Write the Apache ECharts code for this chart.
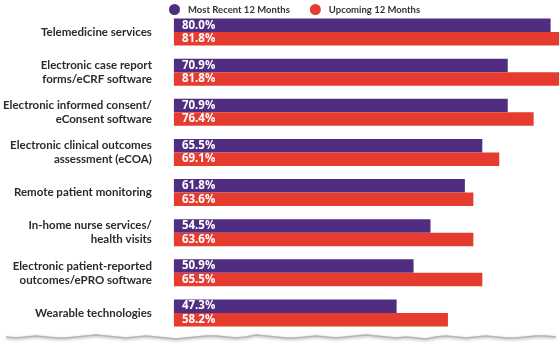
<!DOCTYPE html>
<html><head><meta charset="utf-8">
<script src="https://cdn.jsdelivr.net/npm/echarts@6/dist/echarts.min.js"></script>
<style>html,body{margin:0;padding:0;background:#fff}#c{width:560px;height:346px}</style>
</head><body><div id="c"></div>
<script>
const categories = [
  "Telemedicine services",
  "Electronic case report\nforms/eCRF software",
  "Electronic informed consent/\neConsent software",
  "Electronic clinical outcomes\nassessment (eCOA)",
  "Remote patient monitoring",
  "In-home nurse services/\nhealth visits",
  "Electronic patient-reported\noutcomes/ePRO software",
  "Wearable technologies"
];
const seriesNames = ["Most Recent 12 Months", "Upcoming 12 Months"];
const recent = [80.0, 70.9, 70.9, 65.5, 61.8, 54.5, 50.9, 47.3];
const upcoming = [81.8, 81.8, 76.4, 69.1, 63.6, 63.6, 65.5, 58.2];

// decorative torn-paper edge along the bottom
const tornEdge = [];
{
  const ys = [0,1,0,-1,0,1,1,0,-1,-2,-1,0,1,0,-1,0,1,2,1,0,-1,-1,0,1,0,-2,-1,0,1,1,0,-1,0,1,0,-1,-2,-1,0,1,0,1,2,0,-1,0,1,0,-1,0,1,1,0,-1,-1,0];
  for (let i = 0; i < ys.length; i++) tornEdge.push([6 + i * 10, 337 + ys[i]]);
}

const chart = echarts.init(document.getElementById('c'));
const lbl = {show:true, position:'insideLeft', distance:8, color:'#fff', fontWeight:'bold', fontSize:11.5, fontFamily:'Open Sans', formatter: p => p.value.toFixed(1) + '%'};
chart.setOption({
  animation:false,
  legend:{top:-1, left:164, itemWidth:11, itemHeight:11, itemGap:20, icon:'circle',
    textStyle:{color:'#333', fontWeight:'bold', fontSize:9.5, fontFamily:'Lato', padding:[0,0,0,3]}},
  grid:{left:166, right:0, top:12, bottom:13, containLabel:false},
  xAxis:{type:'value', min:0, max:82, show:false},
  yAxis:{type:'category', data:categories, inverse:true,
    axisLine:{show:false}, axisTick:{show:false},
    axisLabel:{margin:22, color:'#2b2b2b', fontWeight:'bold', fontSize:11.5, fontFamily:'Lato', lineHeight:14, align:'right'}},
  graphic:[{type:'polyline', silent:true, z:-1, shape:{points:tornEdge},
    style:{stroke:'#b5b5b5', lineWidth:1.5, fill:null, shadowBlur:3, shadowColor:'rgba(0,0,0,0.35)', shadowOffsetY:1}}],
  series:[
    {name:seriesNames[0], type:'bar', data:recent, barWidth:13.5, barGap:'0%', itemStyle:{color:'#512D82'}, label:lbl},
    {name:seriesNames[1], type:'bar', data:upcoming, barWidth:13.5, itemStyle:{color:'#E63B2F'}, label:lbl}
  ]
});
</script></body></html>
